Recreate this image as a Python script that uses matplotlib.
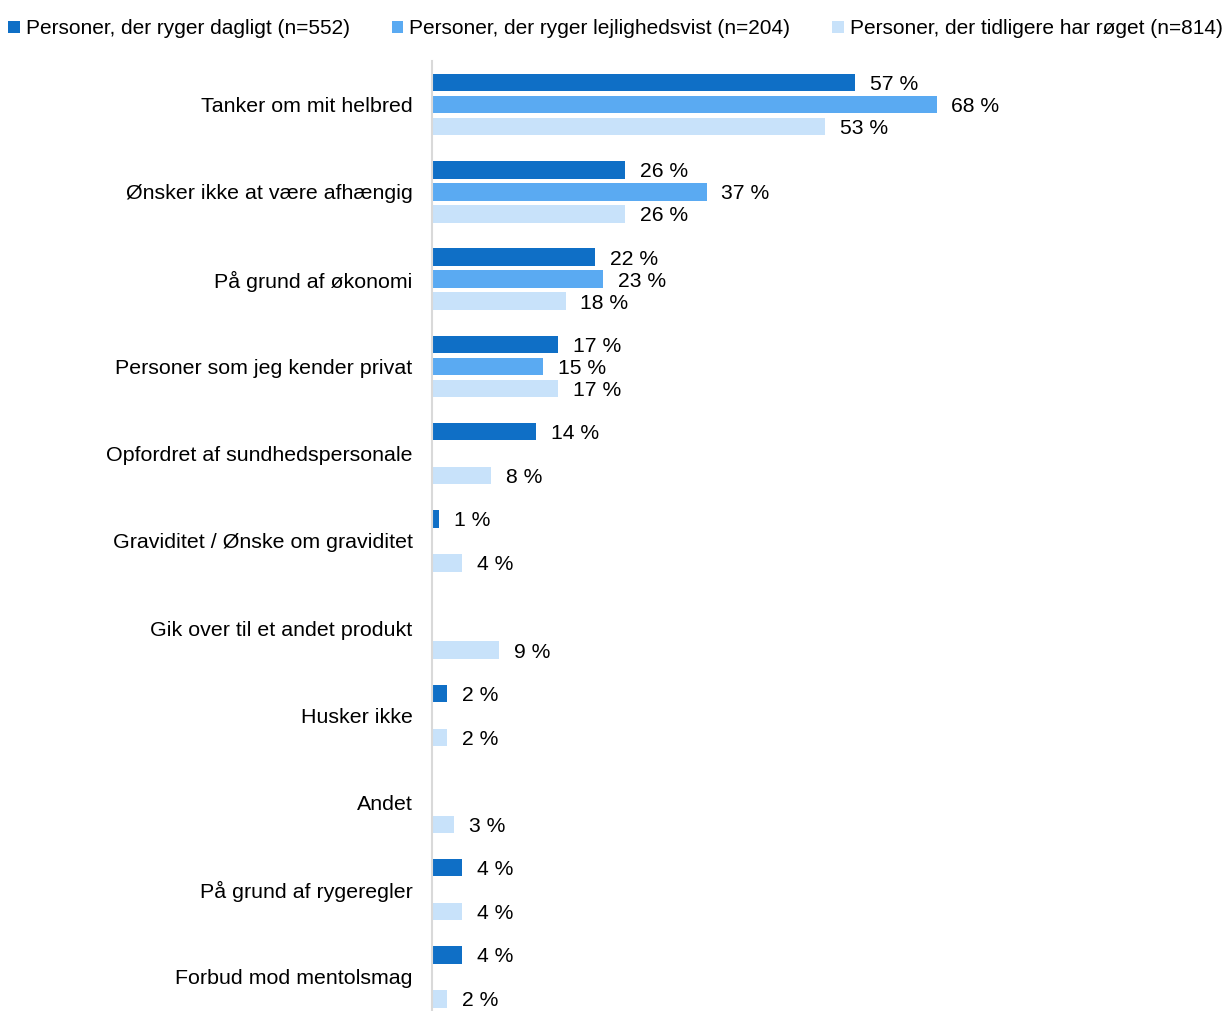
import numpy as np
import matplotlib
matplotlib.use("Agg")
import matplotlib.pyplot as plt
from matplotlib.patches import Patch

plt.rcParams['font.family'] = ['Liberation Sans', 'DejaVu Sans']

categories = [
    "Tanker om mit helbred",
    "Ønsker ikke at være afhængig",
    "På grund af økonomi",
    "Personer som jeg kender privat",
    "Opfordret af sundhedspersonale",
    "Graviditet / Ønske om graviditet",
    "Gik over til et andet produkt",
    "Husker ikke",
    "Andet",
    "På grund af rygeregler",
    "Forbud mod mentolsmag",
]
series_names = [
    "Personer, der ryger dagligt (n=552)",
    "Personer, der ryger lejlighedsvist (n=204)",
    "Personer, der tidligere har røget (n=814)",
]
daily = [57, 26, 22, 17, 14, 1, np.nan, 2, np.nan, 4, 4]
occasional = [68, 37, 23, 15, np.nan, np.nan, np.nan, np.nan, np.nan, np.nan, np.nan]
former = [53, 26, 18, 17, 8, 4, 9, 2, 3, 4, 2]

colors = ["#0f6fc6", "#5aaaf2", "#c8e2fa"]

W, H = 1231, 1011
fig = plt.figure(figsize=(W / 100, H / 100), dpi=100)
ax = fig.add_axes([432 / W, 0, 742 / W, 950 / H])

y = np.arange(len(categories))
offsets = [-0.252, 0, 0.252]
bar_h = 0.2
for vals, off, col in zip([daily, occasional, former], offsets, colors):
    v = np.array(vals, dtype=float)
    mask = ~np.isnan(v)
    ax.barh(y[mask] + off, v[mask], height=bar_h, color=col)
    for yi, vi in zip(y[mask], v[mask]):
        ax.text(vi + 2.0, yi + off, f"{vi:.0f} %", va="center_baseline", ha="left",
                fontsize=15.2, color="#000000")

ax.set_xlim(0, 100)
ax.set_ylim(10.39, -0.5)
ax.set_yticks(y)
ax.set_yticklabels(categories, fontsize=15.4)
ax.tick_params(axis="y", length=0, pad=14)
ax.set_xticks([])
for s in ["top", "right", "bottom"]:
    ax.spines[s].set_visible(False)
ax.spines["left"].set_color("#d9d9d9")
ax.spines["left"].set_linewidth(1.5)

handles = [Patch(facecolor=c, edgecolor="none") for c in colors]
fig.legend(handles, series_names, loc="center", bbox_to_anchor=(0.5, 1 - 29 / H),
           ncol=3, frameon=False, fontsize=15, handlelength=0.55, handleheight=0.55,
           handletextpad=0.3, columnspacing=2.0, borderaxespad=0, borderpad=0)

fig.savefig("out.png", dpi=100)
